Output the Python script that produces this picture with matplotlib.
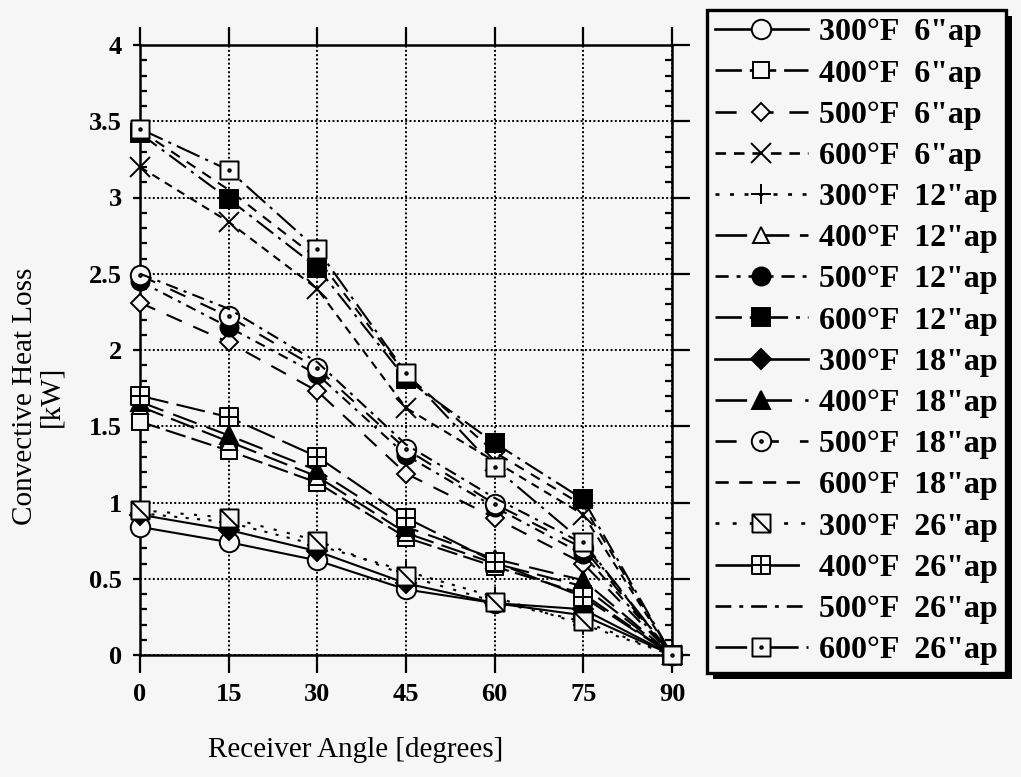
import numpy as np
import matplotlib
matplotlib.use("Agg")
import matplotlib.pyplot as plt
from matplotlib.path import Path
from matplotlib.patches import Rectangle
from matplotlib.transforms import IdentityTransform

# ---- data ----
angle = [0, 15, 30, 45, 60, 75, 90]

loss_300_6 = [0.84, 0.74, 0.62, 0.43, 0.34, 0.26, 0.0]
loss_400_6 = [1.53, 1.34, 1.13, 0.77, 0.58, 0.40, 0.0]
loss_500_6 = [2.31, 2.05, 1.73, 1.19, 0.90, 0.60, 0.0]
loss_600_6 = [3.20, 2.84, 2.40, 1.62, 1.27, 0.92, 0.0]
loss_300_12 = [0.93, 0.87, 0.72, 0.55, 0.38, 0.20, 0.0]
loss_400_12 = [1.63, 1.40, 1.17, 0.80, 0.60, 0.45, 0.0]
loss_500_12 = [2.45, 2.15, 1.84, 1.31, 0.97, 0.66, 0.0]
loss_600_12 = [3.42, 2.99, 2.54, 1.81, 1.39, 1.02, 0.0]
loss_300_18 = [0.92, 0.82, 0.68, 0.47, 0.34, 0.30, 0.0]
loss_400_18 = [1.66, 1.44, 1.21, 0.84, 0.63, 0.49, 0.0]
loss_500_18 = [2.49, 2.22, 1.88, 1.35, 0.99, 0.70, 0.0]
loss_600_18 = [3.44, 3.05, 2.60, 1.84, 1.33, 0.98, 0.0]
loss_300_26 = [0.95, 0.90, 0.75, 0.52, 0.35, 0.22, 0.0]
loss_400_26 = [1.70, 1.56, 1.30, 0.90, 0.61, 0.38, 0.0]
loss_500_26 = [2.50, 2.27, 1.92, 1.38, 1.03, 0.73, 0.0]
loss_600_26 = [3.45, 3.18, 2.66, 1.85, 1.23, 0.74, 0.0]

labels = ['300°F  6"ap', '400°F  6"ap', '500°F  6"ap', '600°F  6"ap',
          '300°F  12"ap', '400°F  12"ap', '500°F  12"ap', '600°F  12"ap',
          '300°F  18"ap', '400°F  18"ap', '500°F  18"ap', '600°F  18"ap',
          '300°F  26"ap', '400°F  26"ap', '500°F  26"ap', '600°F  26"ap']
series = [loss_300_6, loss_400_6, loss_500_6, loss_600_6,
          loss_300_12, loss_400_12, loss_500_12, loss_600_12,
          loss_300_18, loss_400_18, loss_500_18, loss_600_18,
          loss_300_26, loss_400_26, loss_500_26, loss_600_26]

# ---- custom marker glyphs ----
SQ_V = [(-1, -1), (1, -1), (1, 1), (-1, 1), (-1, -1)]
SQ_C = [Path.MOVETO, Path.LINETO, Path.LINETO, Path.LINETO, Path.CLOSEPOLY]
square = Path(SQ_V, SQ_C)
dot = Path.circle((0, 0), 0.14)
circ_dot = Path.make_compound_path(Path.unit_circle(), dot)
sq_dot = Path.make_compound_path(square, dot)
sq_diag = Path.make_compound_path(square, Path([(-1, 1), (1, -1)], [Path.MOVETO, Path.LINETO]))
sq_cross = Path.make_compound_path(square,
                                   Path([(0, -1), (0, 1)], [Path.MOVETO, Path.LINETO]),
                                   Path([(-1, 0), (1, 0)], [Path.MOVETO, Path.LINETO]))

BG = "#f6f6f6"
# (linestyle, marker, markersize, filled)
styles = [
    ("-", "o", 14, False),
    ((0, (10, 3)), "s", 12, False),
    ((0, (8, 6)), "D", 9, False),
    ((0, (4, 3)), "x", 14, False),
    ((0, (1.5, 4)), "+", 15, False),
    ((0, (12, 4)), "^", 12, False),
    ((0, (5, 3, 1.5, 3)), "o", 13, True),
    ((0, (10, 3, 1.5, 3)), "s", 13, True),
    ("-", "D", 10, True),
    ((0, (12, 5)), "^", 13, True),
    ((0, (8, 8)), circ_dot, 14, False),
    ((0, (5, 4)), None, 0, False),
    ((0, (1.5, 5)), sq_diag, 13, False),
    ((0, (14, 4)), sq_cross, 13, False),
    ((0, (6, 3, 1.5, 3)), None, 0, False),
    ((0, (12, 3, 1.5, 3)), sq_dot, 13, False),
]

plt.rcParams["font.family"] = ["Liberation Serif", "DejaVu Serif"]
fig = plt.figure(figsize=(10.21, 7.77), dpi=100, facecolor=BG)
ax = fig.add_axes([140 / 1021, 122 / 777, 532 / 1021, 610 / 777], facecolor=BG)

handles = []
for y, lbl, (ls, mk, ms, filled) in zip(series, labels, styles):
    h, = ax.plot(angle, y, linestyle=ls, color="black", lw=1.5,
                 marker=mk, markersize=ms, markeredgecolor="black",
                 markerfacecolor="black" if filled else BG, markeredgewidth=1.4,
                 clip_on=False, label=lbl, zorder=3)
    handles.append(h)

ax.set_xlim(0, 90)
ax.set_ylim(0, 4)
ax.set_xticks(angle)
ax.set_yticks(np.arange(0, 4.01, 0.5))
ax.set_yticklabels(["0", "0.5", "1", "1.5", "2", "2.5", "3", "3.5", "4"])
ax.set_yticks(np.arange(0, 4.01, 0.1), minor=True)
ax.grid(True, which="major", color="black", linestyle=(0, (1, 1.2)), lw=1.4, zorder=1)
for s in ax.spines.values():
    s.set_linewidth(1.8)

ax.tick_params(axis="x", which="major", bottom=True, top=True, direction="out",
               length=13, width=1.6, pad=7, labelsize=19)
ax.tick_params(axis="y", which="major", left=True, right=True, direction="out",
               length=5, width=1.6, pad=8, labelsize=19)
ax.tick_params(axis="y", which="minor", left=True, right=True, direction="in",
               length=5, width=1.6)
for t in ax.get_xticklabels() + ax.get_yticklabels():
    t.set_fontweight("bold")
for t in ax.yaxis.get_major_ticks():
    t.tick2line.set_markersize(13)

fig.text(38 / 1021, 1 - 396 / 777, "Convective Heat Loss\n[kW]", rotation=90,
         ha="center", va="center", fontsize=21, linespacing=1.0)
fig.text(356 / 1021, 1 - 750 / 777, "Receiver Angle [degrees]",
         ha="center", va="center", fontsize=21)

leg = fig.legend(handles=handles, loc="upper left",
                 bbox_to_anchor=(707 / 1021, 1 - 10 / 777), borderaxespad=0,
                 prop={"weight": "bold", "size": 23}, labelspacing=0.37,
                 handlelength=2.9, handletextpad=0.35, borderpad=0.25,
                 numpoints=1, fancybox=False, framealpha=1, facecolor=BG,
                 edgecolor="black")
leg.get_frame().set_linewidth(2.4)
for ln in leg.get_lines():
    ln.set_linewidth(1.9)

fig.canvas.draw()
bb = leg.get_window_extent()
fig.patches.append(Rectangle((bb.x0 + 6, bb.y0 - 6), bb.width, bb.height,
                             transform=IdentityTransform(), facecolor="black",
                             edgecolor="none", zorder=4))

fig.savefig("out.png", dpi=100, facecolor=BG)
